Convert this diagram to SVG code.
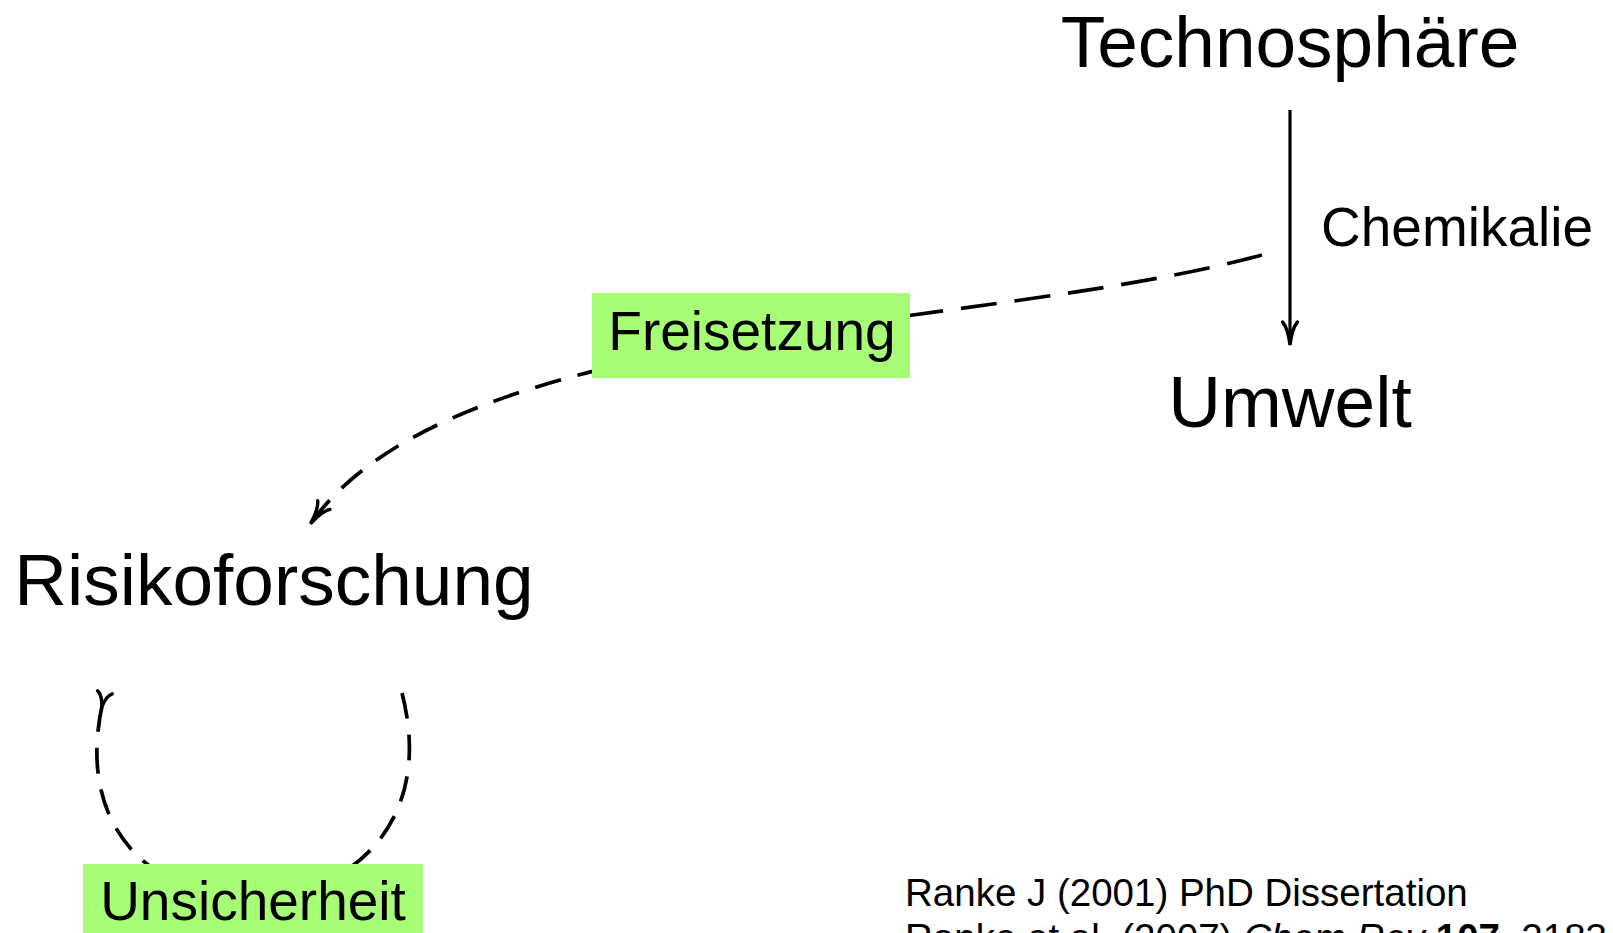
<svg xmlns="http://www.w3.org/2000/svg" width="1613" height="933" viewBox="0 0 1613 933">
  <style>
    .big { font-family: "Liberation Sans", Arial, Helvetica, sans-serif; font-size: 73px; fill: #000; }
    .mid { font-family: "Liberation Sans", Arial, Helvetica, sans-serif; font-size: 55px; fill: #000; }
    .ref { font-family: "Liberation Sans", Arial, Helvetica, sans-serif; font-size: 38.5px; fill: #000; }
    .solid { fill: none; stroke: #000; stroke-width: 3.2; }
    .dash { fill: none; stroke: #000; stroke-width: 3.7; }
    .lbl { fill: #a7fd75; }
  </style>
  <defs>
    <!-- barbed "to" style arrow tip, tip at origin pointing along +x -->
    <marker id="to" markerUnits="userSpaceOnUse" orient="auto" refX="0" refY="0"
            markerWidth="60" markerHeight="60" overflow="visible">
      <path d="M -22,-7.5 C -17,-3 -7,-1 1,0 C -7,1 -17,3 -22,7.5"
            fill="none" stroke="#000" stroke-width="3.4" stroke-dasharray="none" stroke-linecap="round"/>
    </marker>
    <marker id="toShort" markerUnits="userSpaceOnUse" orient="auto" refX="0" refY="0"
            markerWidth="40" markerHeight="40" overflow="visible">
      <path d="M -14,-7.5 C -11,-3 -4,-0.8 1,0 C -4,0.8 -11,3 -14,7.5"
            fill="none" stroke="#000" stroke-width="3.4" stroke-dasharray="none" stroke-linecap="round"/>
    </marker>
  </defs>

  <!-- connectors -->
  <g id="connectors">
    <!-- Technosphäre to Umwelt -->
    <path class="solid" d="M 1290,110 L 1290,344" marker-end="url(#to)"/>
    <!-- release curve, upper part (behind the label) -->
    <path class="dash" stroke-dasharray="36 18" d="M 1262,255 C 1118.5,294 916.75,310.25 733,342.1"/>
    <!-- release curve, lower part ending at Risikoforschung -->
    <path class="dash" stroke-dasharray="27 17" d="M 733,342.1 C 549.25,374 383.5,421.5 311,523" marker-end="url(#to)"/>
    <!-- self loop of Risikoforschung, drawn as two halves meeting under the label -->
    <path class="dash" stroke-dasharray="26 16" d="M 102,706 C 74,838.5 166,901.5 256.5,898.25" marker-start="url(#toShort)"/>
    <path class="dash" stroke-dasharray="26 16" d="M 402,693 C 436,825.5 347,895 256.5,898.25"/>
  </g>

  <g id="technosphaere">
    <text class="big" x="1290" y="67" text-anchor="middle">Technosphäre</text>
  </g>

  <g id="umwelt">
    <text class="big" x="1290" y="427" text-anchor="middle">Umwelt</text>
  </g>

  <g id="chemikalie">
    <text class="mid" x="1321" y="246">Chemikalie</text>
  </g>

  <g id="freisetzung">
    <rect class="lbl" x="592" y="293" width="318" height="85"/>
    <text class="mid" x="752" y="350" text-anchor="middle">Freisetzung</text>
  </g>

  <g id="risikoforschung">
    <text class="big" x="274" y="605" text-anchor="middle">Risikoforschung</text>
  </g>

  <g id="unsicherheit">
    <rect class="lbl" x="83" y="864" width="340" height="85"/>
    <text class="mid" x="253" y="920" text-anchor="middle">Unsicherheit</text>
  </g>

  <g id="references">
    <text class="ref" x="905" y="906">Ranke J (2001) PhD Dissertation</text>
    <text class="ref" x="905" y="951">Ranke et al. (2007) <tspan font-style="italic">Chem Rev</tspan> <tspan font-weight="bold">107</tspan>, 2183</text>
  </g>
</svg>
